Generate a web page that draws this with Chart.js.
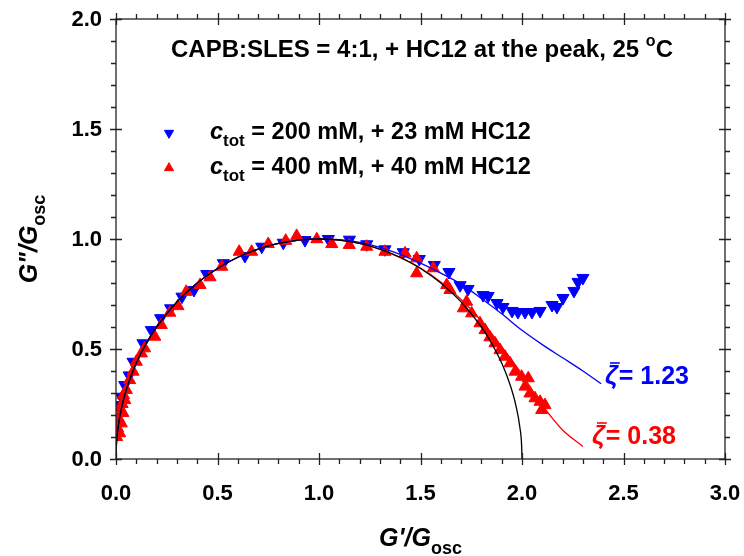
<!DOCTYPE html>
<html lang="en">
<head>
<meta charset="UTF-8">
<title>G''/Gosc vs G'/Gosc</title>
<script src="https://cdn.jsdelivr.net/npm/chart.js@4.4.1/dist/chart.umd.min.js"></script>
<style>
  body { margin: 0; background: #fff; }
</style>
</head>
<body>
<canvas id="chart" width="744" height="556"></canvas>
<script>
// 200 mM + 23 mM HC12 (down triangles)
const blueX = [0.005, 0.010, 0.026, 0.043, 0.065, 0.084, 0.133, 0.174, 0.220, 0.269, 0.325, 0.384, 0.447, 0.529, 0.635, 0.718, 0.824, 0.931, 1.046, 1.150, 1.235, 1.325, 1.415, 1.494, 1.568, 1.640, 1.695, 1.734, 1.808, 1.833, 1.877, 1.906, 1.951, 1.980, 2.015, 2.049, 2.089, 2.148, 2.172, 2.202, 2.256, 2.276, 2.300];
const blueY = [0.190, 0.245, 0.283, 0.336, 0.380, 0.442, 0.526, 0.586, 0.640, 0.685, 0.738, 0.768, 0.841, 0.890, 0.923, 0.965, 0.983, 0.995, 1.000, 0.997, 0.976, 0.953, 0.940, 0.909, 0.882, 0.850, 0.790, 0.773, 0.745, 0.741, 0.709, 0.691, 0.673, 0.668, 0.668, 0.668, 0.673, 0.700, 0.691, 0.732, 0.764, 0.805, 0.823];

// 400 mM + 40 mM HC12 (up triangles)
const redX = [0.003, 0.008, 0.012, 0.018, 0.020, 0.026, 0.030, 0.034, 0.037, 0.043, 0.051, 0.067, 0.084, 0.100, 0.125, 0.141, 0.191, 0.223, 0.265, 0.305, 0.346, 0.414, 0.463, 0.521, 0.607, 0.668, 0.750, 0.836, 0.890, 0.989, 1.063, 1.149, 1.235, 1.325, 1.424, 1.481, 1.481, 1.563, 1.629, 1.645, 1.711, 1.727, 1.752, 1.793, 1.818, 1.842, 1.867, 1.892, 1.916, 1.941, 1.966, 1.998, 2.015, 2.031, 2.039, 2.064, 2.089, 2.097, 2.113];
const redY = [0.100, 0.140, 0.185, 0.117, 0.230, 0.162, 0.250, 0.209, 0.290, 0.268, 0.314, 0.359, 0.397, 0.442, 0.480, 0.503, 0.556, 0.609, 0.665, 0.695, 0.760, 0.791, 0.826, 0.874, 0.942, 0.942, 0.977, 0.992, 1.014, 0.999, 0.977, 0.973, 0.965, 0.942, 0.935, 0.912, 0.844, 0.867, 0.791, 0.768, 0.685, 0.715, 0.662, 0.617, 0.586, 0.553, 0.526, 0.495, 0.465, 0.435, 0.397, 0.374, 0.329, 0.367, 0.298, 0.276, 0.260, 0.223, 0.245];

// Maxwell semicircle
const maxwellX = [0, 0.002, 0.01, 0.03, 0.06, 0.1, 0.15, 0.2, 0.3, 0.4, 0.5, 0.6, 0.7, 0.8, 0.9, 1.0, 1.1, 1.2, 1.3, 1.4, 1.5, 1.6, 1.7, 1.8, 1.85, 1.9, 1.94, 1.97, 1.99, 1.998, 2.0];
const maxwellY = [0, 0.063, 0.141, 0.243, 0.341, 0.436, 0.527, 0.6, 0.714, 0.8, 0.866, 0.917, 0.954, 0.98, 0.995, 1.0, 0.995, 0.98, 0.954, 0.917, 0.866, 0.8, 0.714, 0.6, 0.527, 0.436, 0.341, 0.243, 0.141, 0.063, 0];

// model curves for the two samples
const fitBlueX = [0, 0.002, 0.01, 0.03, 0.06, 0.1, 0.15, 0.2, 0.3, 0.4, 0.5, 0.6, 0.7, 0.8, 0.9, 1.0, 1.1, 1.2, 1.3, 1.4, 1.5, 1.6, 1.7, 1.8, 1.9, 2.0, 2.1, 2.2, 2.3, 2.39];
const fitBlueY = [0, 0.063, 0.141, 0.243, 0.341, 0.436, 0.527, 0.6, 0.714, 0.8, 0.866, 0.917, 0.954, 0.98, 0.995, 1.0, 0.997, 0.985, 0.962, 0.93, 0.89, 0.845, 0.795, 0.73, 0.66, 0.585, 0.52, 0.46, 0.4, 0.342];
const fitRedX = [0, 0.002, 0.01, 0.03, 0.06, 0.1, 0.15, 0.2, 0.3, 0.4, 0.5, 0.6, 0.7, 0.8, 0.9, 1.0, 1.1, 1.2, 1.3, 1.4, 1.5, 1.6, 1.7, 1.8, 1.9, 2.0, 2.1, 2.2, 2.3];
const fitRedY = [0, 0.063, 0.141, 0.243, 0.341, 0.436, 0.527, 0.6, 0.714, 0.8, 0.866, 0.917, 0.954, 0.98, 0.995, 1.0, 0.995, 0.98, 0.953, 0.915, 0.868, 0.805, 0.725, 0.628, 0.51, 0.385, 0.245, 0.132, 0.057];

const xTicks = [0, 0.5, 1.0, 1.5, 2.0, 2.5, 3.0];
const yTicks = [0, 0.5, 1.0, 1.5, 2.0];
const minorStep = 0.1;

const zip = (xs, ys) => xs.map((x, i) => ({ x: x, y: ys[i] }));

const FONT = '"Liberation Sans", Arial, sans-serif';
const BLUE = '#0000ff';
const RED = '#ff0000';

function curve(data, color) {
    return {
        data: data, showLine: true, pointRadius: 0, borderColor: color,
        borderWidth: 1.3, cubicInterpolationMode: 'monotone'
    };
}

function points(data, color, rot) {
    return {
        data: data, showLine: false, pointStyle: 'triangle', pointRotation: rot,
        pointRadius: 7, backgroundColor: color, borderColor: color, borderWidth: 1
    };
}

// text with a subscript / superscript piece
function runs(ctx, parts, x, y, align) {
    let w = 0;
    parts.forEach(p => { ctx.font = p.f; w += ctx.measureText(p.t).width; });
    let cx = align === 'center' ? x - w / 2 : x;
    ctx.textAlign = 'left';
    ctx.textBaseline = 'alphabetic';
    parts.forEach(p => {
        ctx.font = p.f;
        ctx.fillText(p.t, cx, y + (p.dy || 0));
        cx += ctx.measureText(p.t).width;
    });
}

const frame = {
    id: 'frame',
    afterDatasetsDraw(chart) {
        const ctx = chart.ctx;
        const a = chart.chartArea;
        const xs = chart.scales.x, ys = chart.scales.y;
        ctx.save();
        ctx.strokeStyle = '#222';
        ctx.lineWidth = 1.3;
        ctx.strokeRect(a.left, a.top, a.right - a.left, a.bottom - a.top);

        ctx.beginPath();
        for (let v = 0; v <= 3.0001; v += minorStep) {
            const px = Math.round(xs.getPixelForValue(v)) + 0.5;
            const major = xTicks.some(t => Math.abs(t - v) < 1e-6);
            const inn = major ? 6 : 0, out = major ? 6 : 5;
            ctx.moveTo(px, a.bottom + out); ctx.lineTo(px, a.bottom - inn);
            ctx.moveTo(px, a.top - out); ctx.lineTo(px, a.top + inn);
        }
        for (let v = 0; v <= 2.0001; v += minorStep) {
            const py = Math.round(ys.getPixelForValue(v)) + 0.5;
            const major = yTicks.some(t => Math.abs(t - v) < 1e-6);
            const inn = major ? 6 : 0, out = major ? 6 : 5;
            ctx.moveTo(a.left - out, py); ctx.lineTo(a.left + inn, py);
            ctx.moveTo(a.right + out, py); ctx.lineTo(a.right - inn, py);
        }
        ctx.stroke();

        // tick labels
        ctx.fillStyle = '#000';
        ctx.font = 'bold 22px ' + FONT;
        ctx.textAlign = 'center';
        ctx.textBaseline = 'alphabetic';
        xTicks.forEach(v => ctx.fillText(v.toFixed(1), xs.getPixelForValue(v), 500));
        ctx.textAlign = 'right';
        ctx.textBaseline = 'middle';
        yTicks.forEach(v => ctx.fillText(v.toFixed(1), 102, ys.getPixelForValue(v) + 1));

        // axis titles
        const bi = 'italic bold 25px ' + FONT, sub = 'bold 18px ' + FONT;
        runs(ctx, [{ t: "G'/G", f: bi }, { t: 'osc', f: sub, dy: 8 }], (a.left + a.right) / 2, 546, 'center');
        ctx.save();
        ctx.translate(37, (a.top + a.bottom) / 2);
        ctx.rotate(-Math.PI / 2);
        runs(ctx, [{ t: 'G"/G', f: bi }, { t: 'osc', f: sub, dy: 8 }], 0, 0, 'center');
        ctx.restore();

        // heading
        const hf = 'bold 24px ' + FONT;
        runs(ctx, [{ t: 'CAPB:SLES = 4:1, + HC12 at the peak, 25 ', f: hf },
                   { t: 'o', f: 'bold 16px ' + FONT, dy: -11 }, { t: 'C', f: hf }], 422, 57, 'center');

        // legend
        const lf = 'bold 23.5px ' + FONT, li = 'italic bold 23.5px ' + FONT, ls = 'bold 17px ' + FONT;
        [[BLUE, 180, 133, ' = 200 mM, + 23 mM HC12'], [RED, 0, 168, ' = 400 mM, + 40 mM HC12']].forEach(r => {
            ctx.fillStyle = r[0]; ctx.strokeStyle = r[0]; ctx.lineWidth = 1;
            Chart.helpers.drawPoint(ctx, { pointStyle: 'triangle', radius: 5.3, rotation: r[1], borderWidth: 1 }, 169, r[2]);
            ctx.fillStyle = '#000';
            runs(ctx, [{ t: 'c', f: li }, { t: 'tot', f: ls, dy: 7 }, { t: r[3], f: lf }], 210, r[2] + 6, 'left');
        });

        // zeta labels
        [[BLUE, 605, 384, '= 1.23'], [RED, 592, 444, '= 0.38']].forEach(r => {
            ctx.fillStyle = r[0]; ctx.strokeStyle = r[0];
            ctx.font = 'italic bold 26px ' + FONT;
            ctx.textAlign = 'left'; ctx.textBaseline = 'alphabetic';
            ctx.fillText('\u03b6', r[1], r[2]);
            const zw = ctx.measureText('\u03b6').width;
            ctx.lineWidth = 1.6;
            ctx.beginPath(); ctx.moveTo(r[1] + 5, r[2] - 21); ctx.lineTo(r[1] + zw + 2, r[2] - 21); ctx.stroke();
            ctx.font = 'bold 25px ' + FONT;
            ctx.fillText(r[3], r[1] + zw + 1, r[2]);
        });
        ctx.restore();
    }
};

new Chart(document.getElementById('chart'), {
    type: 'scatter',
    data: {
        datasets: [
            curve(zip(maxwellX, maxwellY), '#000'),
            curve(zip(fitBlueX, fitBlueY), BLUE),
            curve(zip(fitRedX, fitRedY), RED),
            points(zip(redX, redY), RED, 0),
            points(zip(blueX, blueY), BLUE, 180)
        ]
    },
    options: {
        responsive: false,
        animation: false,
        layout: { padding: { top: 19, right: 19, left: 0, bottom: 0 } },
        plugins: { legend: { display: false }, tooltip: { enabled: false } },
        scales: {
            x: {
                min: 0, max: 3,
                ticks: { display: false },
                grid: { display: false },
                border: { display: false },
                afterFit: s => { s.height = 97; }
            },
            y: {
                min: 0, max: 2,
                ticks: { display: false },
                grid: { display: false },
                border: { display: false },
                afterFit: s => { s.width = 116; }
            }
        }
    },
    plugins: [frame]
});
</script>
</body>
</html>
